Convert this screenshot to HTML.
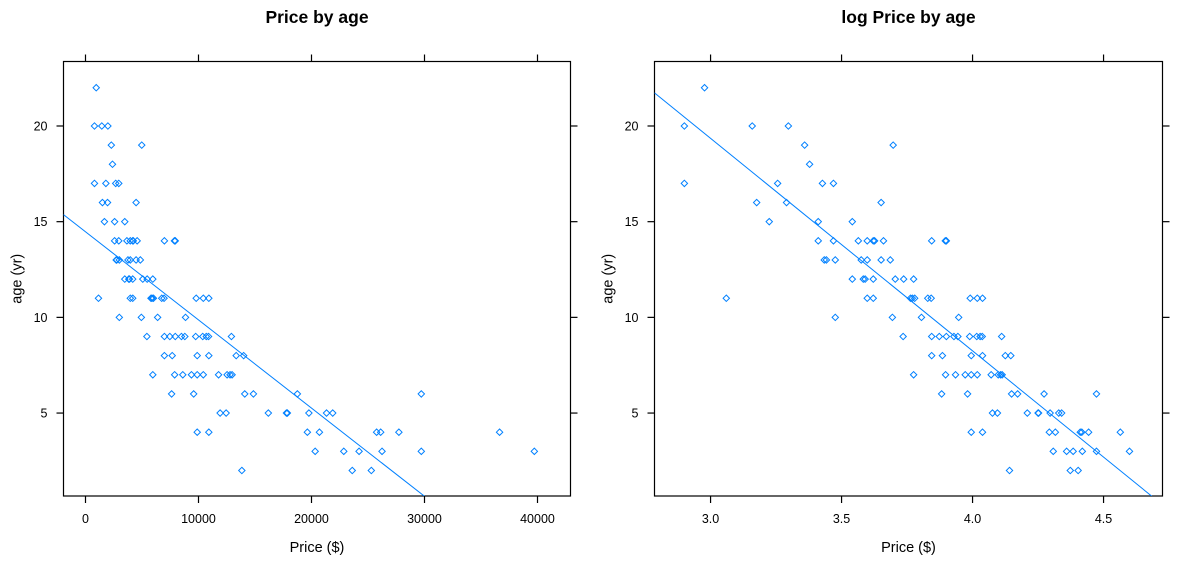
<!DOCTYPE html>
<html><head><meta charset="utf-8">
<style>
html,body{margin:0;padding:0;background:#fff;width:1180px;height:566px;overflow:hidden;}
svg{display:block;font-family:"Liberation Sans",Arial,sans-serif;}
</style></head>
<body>
<svg id="chart" width="1180" height="566" viewBox="0 0 1180 566" xmlns="http://www.w3.org/2000/svg"></svg>
<script>
// log10(price) values of each car, with matching ages
const logPrice = [
 2.977,
 2.90,3.159,3.297,
 3.359,3.697,
 3.378,
 2.90,3.256,3.427,3.469,
 3.176,3.29,3.651,
 3.224,3.411,3.541,
 3.411,3.469,3.564,3.598,3.621,3.626,3.66,3.844,3.896,3.90,
 3.434,3.442,3.476,3.575,3.598,3.651,3.686,
 3.541,3.583,3.59,3.621,3.705,3.737,3.775,
 3.06,3.598,3.621,3.763,3.770,3.779,3.829,3.842,3.991,4.018,4.038,
 3.476,3.694,3.805,3.947,
 3.735,3.844,3.873,3.90,3.929,3.944,3.989,4.016,4.029,4.037,4.111,
 3.844,3.885,3.995,4.038,4.125,4.146,
 3.775,3.897,3.935,3.972,3.995,4.018,4.071,4.098,4.107,4.113,
 3.882,3.981,4.149,4.172,4.273,4.473,
 4.076,4.095,4.209,4.25,4.252,4.296,4.329,4.34,
 3.995,4.038,4.293,4.316,4.411,4.417,4.443,4.564,
 4.308,4.359,4.384,4.419,4.473,4.599,
 4.141,4.373,4.403
];
const ages = [
 22,
 20,20,20,
 19,19,
 18,
 17,17,17,17,
 16,16,16,
 15,15,15,
 14,14,14,14,14,14,14,14,14,14,
 13,13,13,13,13,13,13,
 12,12,12,12,12,12,12,
 11,11,11,11,11,11,11,11,11,11,11,
 10,10,10,10,
 9,9,9,9,9,9,9,9,9,9,9,
 8,8,8,8,8,8,
 7,7,7,7,7,7,7,7,7,7,
 6,6,6,6,6,6,
 5,5,5,5,5,5,5,5,
 4,4,4,4,4,4,4,4,
 3,3,3,3,3,3,
 2,2,2
];
const leftXTicks = [0,10000,20000,30000,40000];
const rightXTicks = [3.0,3.5,4.0,4.5];
const rightXTickLabels = ["3.0","3.5","4.0","4.5"];
const yTicks = [5,10,15,20];

const NS="http://www.w3.org/2000/svg";
const svg=document.getElementById('chart');
function mk(tag,attrs,parent){const e=document.createElementNS(NS,tag);for(const k in attrs)e.setAttribute(k,attrs[k]);(parent||svg).appendChild(e);return e;}
const BLUE="#0080ff";
const prices = logPrice.map(v=>Math.pow(10,v));

function fit(xs,ys){const n=xs.length;let mx=0,my=0;for(let i=0;i<n;i++){mx+=xs[i];my+=ys[i];}mx/=n;my/=n;let sxy=0,sxx=0;for(let i=0;i<n;i++){sxy+=(xs[i]-mx)*(ys[i]-my);sxx+=(xs[i]-mx)*(xs[i]-mx);}const b=sxy/sxx;return {a:my-b*mx,b:b};}

function panel(opts){
  const {x0,x1,y0,y1,xd0,xd1,xs,ticks,tickLabels,title,name}=opts;
  const yd0=0.666, yd1=23.37;
  const sx=v=>x0+(v-xd0)/(xd1-xd0)*(x1-x0);
  const sy=v=>y1-(v-yd0)/(yd1-yd0)*(y1-y0);
  const g=mk('g',{});
  
  
  const t=mk('text',{x:(x0+x1)/2,y:23,'text-anchor':'middle','font-size':'17.5','font-weight':'bold',fill:'#000'},g);
  t.textContent=title;
  
  
  const cid=name+'-clip';
  const cp=mk('clipPath',{id:cid},g);
  mk('rect',{x:x0,y:y0,width:x1-x0,height:y1-y0},cp);
  const box=mk('rect',{x:x0,y:y0,width:x1-x0,height:y1-y0,fill:'none',stroke:'#000','stroke-width':1.2},g);
  
  
  ticks.forEach((v,i)=>{
    const px=sx(v);
    mk('line',{x1:px,x2:px,y1:y1,y2:y1+7,stroke:'#000','stroke-width':1.2},g);
    mk('line',{x1:px,x2:px,y1:y0,y2:y0-7,stroke:'#000','stroke-width':1.2},g);
    const tl=mk('text',{x:px,y:y1+27,'text-anchor':'middle','font-size':'12.5',fill:'#000'},g);
    tl.textContent=tickLabels[i];
    
    
  });
  yTicks.forEach(v=>{
    const py=sy(v);
    mk('line',{x1:x0-7,x2:x0,y1:py,y2:py,stroke:'#000','stroke-width':1.2},g);
    mk('line',{x1:x1,x2:x1+7,y1:py,y2:py,stroke:'#000','stroke-width':1.2},g);
    const tl=mk('text',{x:x0-16,y:py+4.5,'text-anchor':'end','font-size':'12.5',fill:'#000'},g);
    tl.textContent=String(v);
    
    
  });
  const xl=mk('text',{x:(x0+x1)/2,y:552,'text-anchor':'middle','font-size':'14.5',fill:'#000'},g);
  xl.textContent='Price ($)';
  
  
  const yl=mk('text',{x:0,y:0,'text-anchor':'middle','font-size':'14.5',fill:'#000',transform:`translate(${x0-42},${(y0+y1)/2}) rotate(-90)`},g);
  yl.textContent='age (yr)';
  
  
  const pg=mk('g',{'clip-path':`url(#${cid})`},g);
  xs.forEach((v,i)=>{
    const px=sx(v), py=sy(ages[i]), r=3.2;
    const p=mk('path',{d:`M${px},${py-r}L${px+r},${py}L${px},${py+r}L${px-r},${py}Z`,fill:'none',stroke:BLUE,'stroke-width':1},pg);
    
    
  });
  const f=fit(xs,ages);
  const ln=mk('line',{x1:sx(xd0),y1:sy(f.a+f.b*xd0),x2:sx(xd1),y2:sy(f.a+f.b*xd1),stroke:BLUE,'stroke-width':1},pg);
  
  
}

panel({x0:63.5,x1:570.5,y0:61.5,y1:496,xd0:-1947,xd1:42920,xs:prices,ticks:leftXTicks,tickLabels:leftXTicks.map(String),title:'Price by age',name:'price'});
panel({x0:654.5,x1:1162.5,y0:61.5,y1:496,xd0:2.786,xd1:4.725,xs:logPrice,ticks:rightXTicks,tickLabels:rightXTickLabels,title:'log Price by age',name:'log-price'});
</script>
</body></html>
